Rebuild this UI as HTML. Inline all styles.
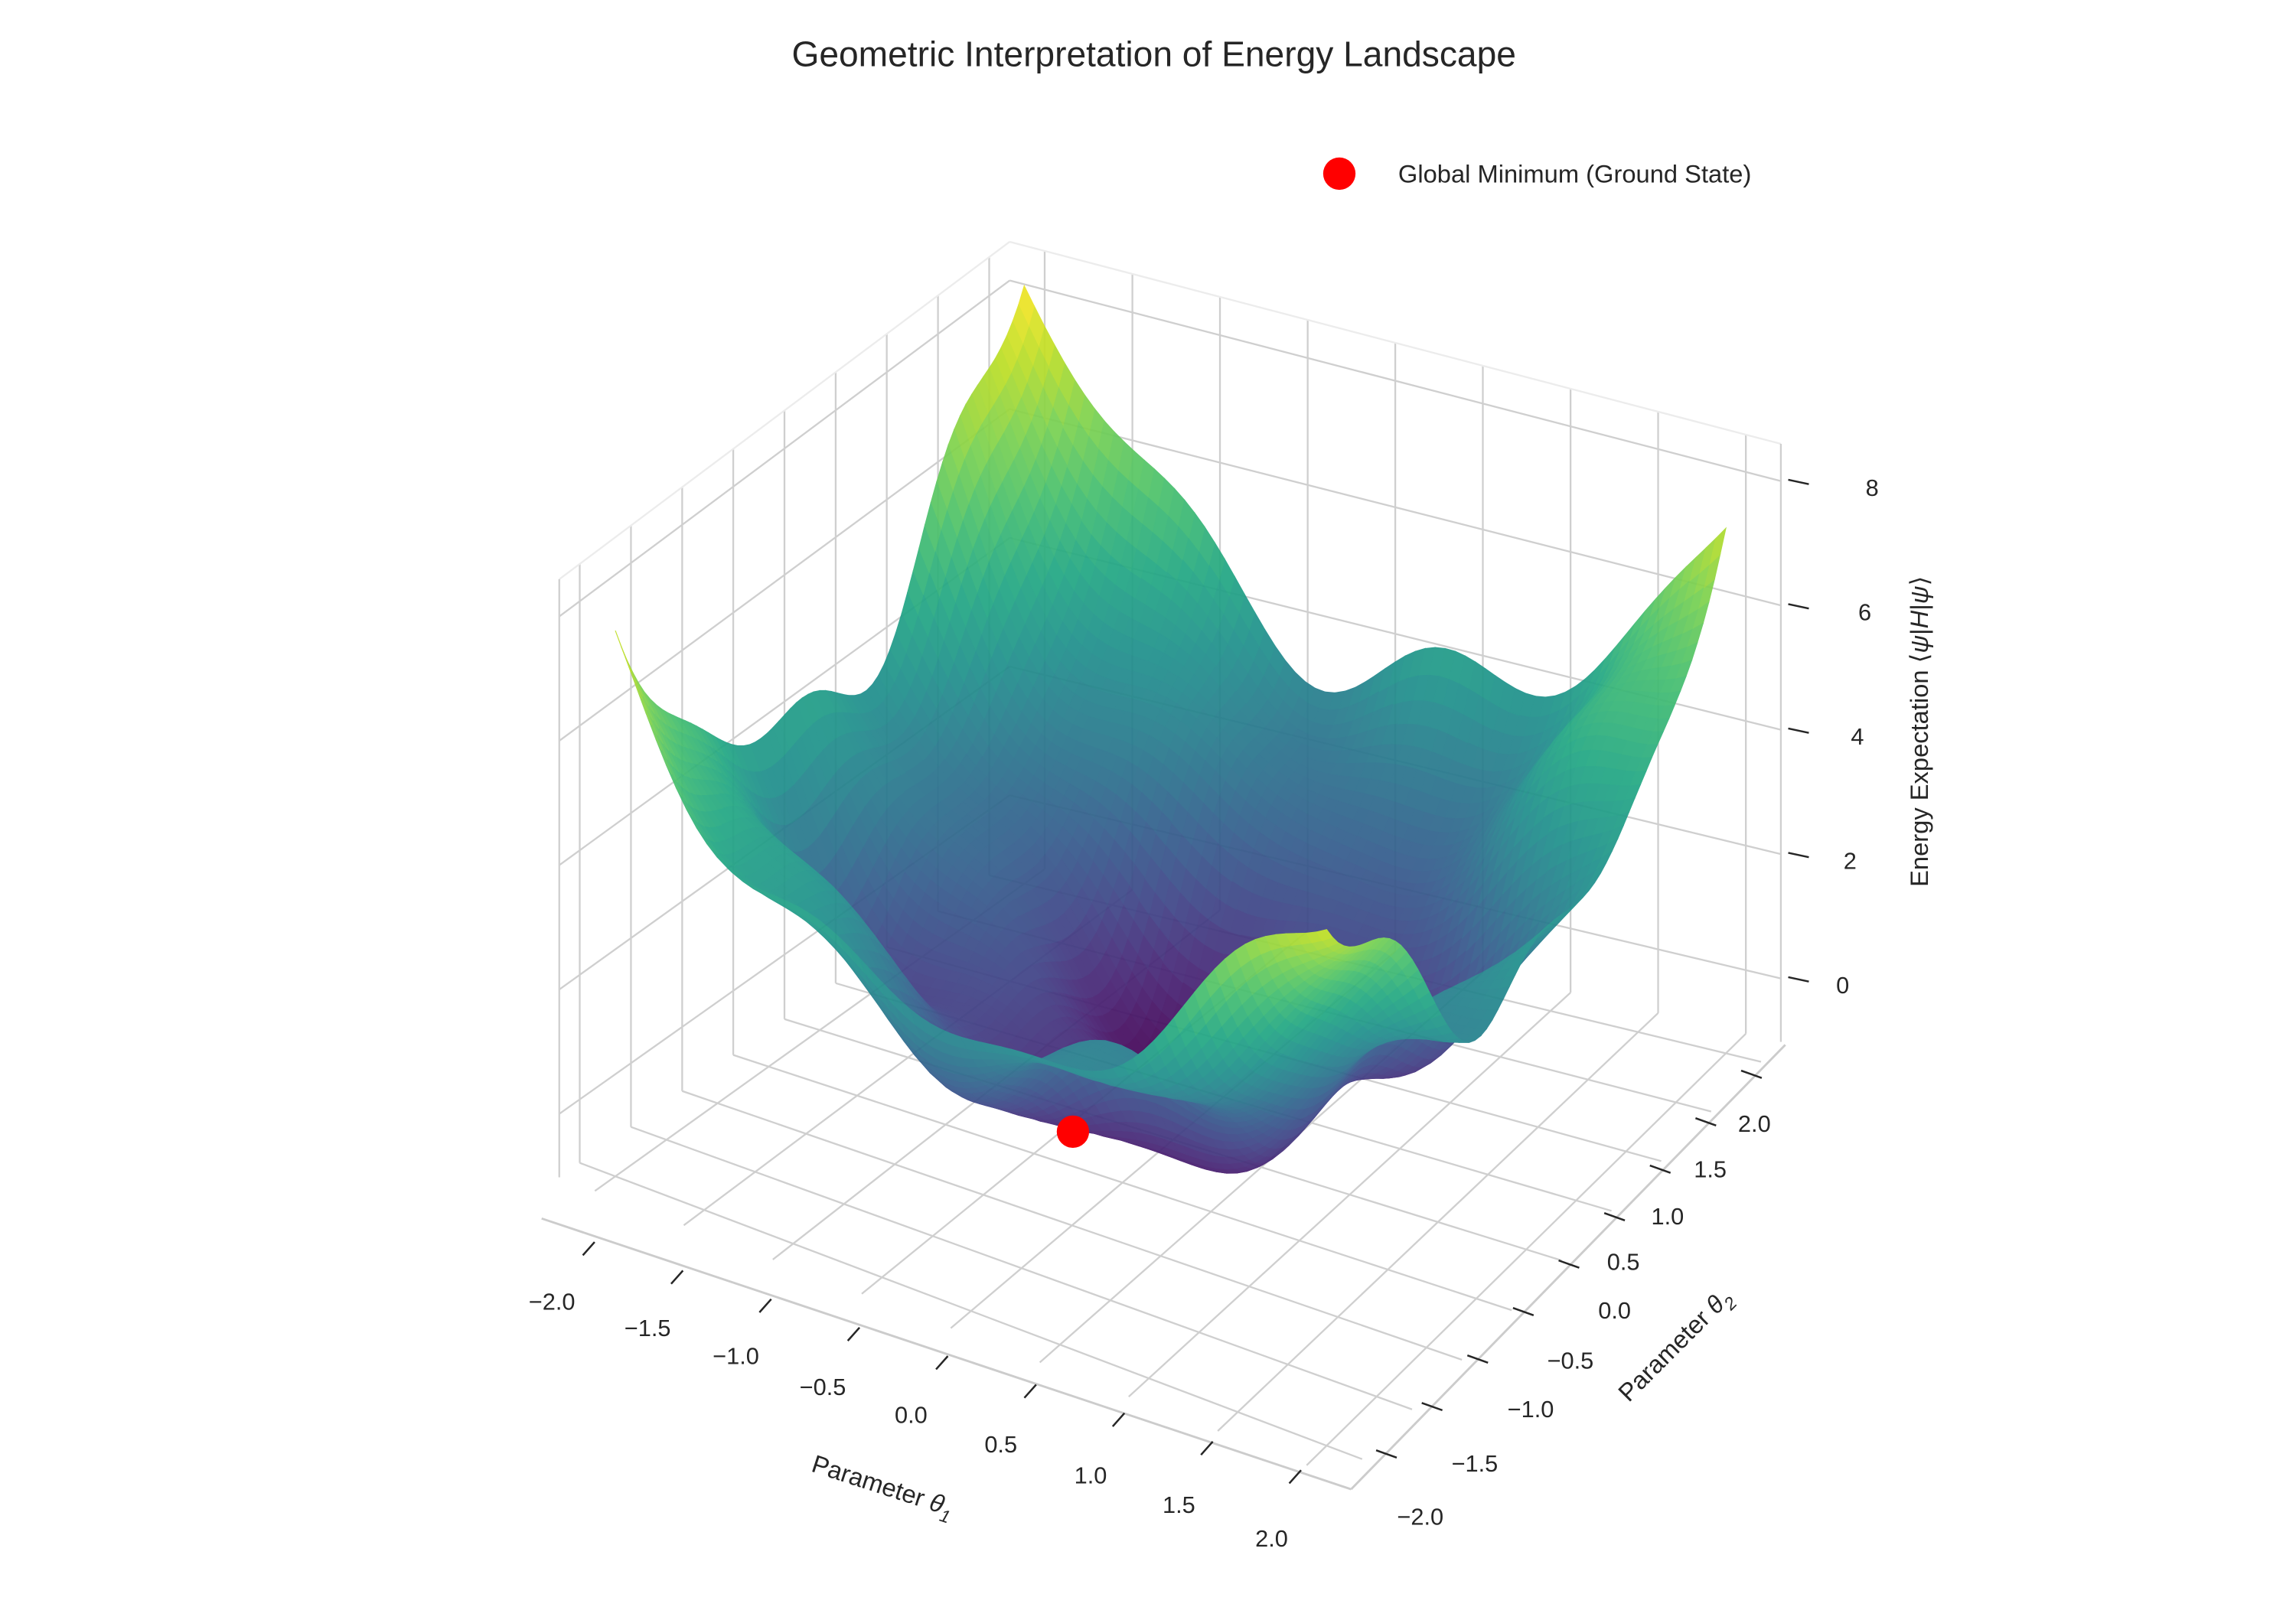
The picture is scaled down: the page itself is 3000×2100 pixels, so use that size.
<!DOCTYPE html>
<html><head><meta charset="utf-8"><style>
html,body{margin:0;padding:0;background:#fff;}
svg{display:block;}
text{font-family:"Liberation Sans",sans-serif;fill:#262626;}
</style></head><body>
<svg id="s" width="3000" height="2100" viewBox="0 0 1560 1092" preserveAspectRatio="none" xmlns="http://www.w3.org/2000/svg">
<rect width="1560" height="1092" fill="#fff"/>
<g id="grid"></g>
<g id="surf" opacity="0.93"></g>
<circle cx="729" cy="769" r="11" fill="#ff0000"/>
<g id="axes"></g>
<text x="784" y="45" font-size="24" text-anchor="middle">Geometric Interpretation of Energy Landscape</text>
<circle cx="910" cy="118" r="11" fill="#ff0000"/>
<text x="950" y="124" font-size="17">Global Minimum (Ground State)</text>
<text transform="translate(598,1015) rotate(18)" font-size="17" text-anchor="middle">Parameter <tspan font-style="italic">θ</tspan><tspan font-size="12" dy="5" font-style="italic">1</tspan></text>
<text transform="translate(1142,918) rotate(-45)" font-size="17" text-anchor="middle">Parameter <tspan font-style="italic">θ</tspan><tspan font-size="12" dy="5" font-style="italic">2</tspan></text>
<text transform="translate(1310,497) rotate(-90)" font-size="17" text-anchor="middle">Energy Expectation ⟨<tspan font-style="italic">ψ</tspan>|<tspan font-style="italic">H</tspan>|<tspan font-style="italic">ψ</tspan>⟩</text>
</svg>
<script>
var NS="http://www.w3.org/2000/svg";
function el(p,t,a){var e=document.createElementNS(NS,t);for(var k in a)e.setAttribute(k,a[k]);p.appendChild(e);return e;}
var L=[380,800],F=[912,1005],R=[1210,708],B=[686,585];
var ZMIN=-1.02,ZMAX=8.6,ZS=42.25;
function P(x,y,z){var u=(x+2.2)/4.4,v=(y+2.2)/4.4;
 var sx=L[0]*(1-u)*(1-v)+F[0]*u*(1-v)+R[0]*u*v+B[0]*(1-u)*v;
 var sy=L[1]*(1-u)*(1-v)+F[1]*u*(1-v)+R[1]*u*v+B[1]*(1-u)*v;
 var sc=1+0.035*(v-u);
 return [sx,sy-(z-ZMIN)*ZS*sc];}
var g=document.getElementById('grid');
function line(p,a,b,c,w){el(p,'line',{x1:a[0].toFixed(1),y1:a[1].toFixed(1),x2:b[0].toFixed(1),y2:b[1].toFixed(1),stroke:c||'#cfcfcf','stroke-width':w||1.2});}
var T=[-2,-1.5,-1,-0.5,0,0.5,1,1.5,2],ZT=[0,2,4,6,8];
T.forEach(function(t){line(g,P(t,-2.2,ZMIN),P(t,2.2,ZMIN));line(g,P(-2.2,t,ZMIN),P(2.2,t,ZMIN));});
T.forEach(function(t){line(g,P(-2.2,t,ZMIN),P(-2.2,t,ZMAX));});
ZT.forEach(function(z){line(g,P(-2.2,-2.2,z),P(-2.2,2.2,z));});
T.forEach(function(t){line(g,P(t,2.2,ZMIN),P(t,2.2,ZMAX));});
ZT.forEach(function(z){line(g,P(-2.2,2.2,z),P(2.2,2.2,z));});
line(g,P(-2.2,-2.2,ZMAX),P(-2.2,2.2,ZMAX),'#ececec');line(g,P(-2.2,2.2,ZMAX),P(2.2,2.2,ZMAX),'#ececec');
line(g,P(-2.2,-2.2,ZMIN),P(-2.2,-2.2,ZMAX));line(g,P(2.2,2.2,ZMIN),P(2.2,2.2,ZMAX));
function f(x,y){var r2=x*x+y*y;return 0.95*r2+0.02*x*x*y*y-0.6+0.55*Math.sin(3.5*x)*Math.sin(3.5*y)+0.3*Math.sin(5*x)+0.3*Math.cos(5*y)-0.1*x*y+0.05*(y-x);}
var VC=[[68,1,84],[72,35,116],[64,67,135],[52,94,141],[41,120,142],[32,144,140],[34,167,132],[68,190,112],[121,209,81],[189,222,38],[253,231,37]];
function vir(t){t=Math.max(0,Math.min(1,t))*(VC.length-1);var i=Math.min(Math.floor(t),VC.length-2),r=t-i;var a=VC[i],b=VC[i+1];
 return 'rgb('+Math.round(a[0]+(b[0]-a[0])*r)+','+Math.round(a[1]+(b[1]-a[1])*r)+','+Math.round(a[2]+(b[2]-a[2])*r)+')';}
var N=70,xs=[],Z=[],zmn=1e9,zmx=-1e9;
for(var i=0;i<=N;i++){xs.push(-2+4*i/N);}
for(var i=0;i<=N;i++){Z.push([]);for(var j=0;j<=N;j++){var z=f(xs[i],xs[j]);Z[i].push(z);zmn=Math.min(zmn,z);zmx=Math.max(zmx,z);}}
var sc=(8.3-(-0.8))/(zmx-zmn);
for(var i=0;i<=N;i++)for(var j=0;j<=N;j++)Z[i][j]=-0.8+(Z[i][j]-zmn)*sc;
var quads=[];
for(var i=0;i<N;i++)for(var j=0;j<N;j++){
 var x0=xs[i],x1=xs[i+1],y0=xs[j],y1=xs[j+1];
 var za=Z[i][j],zb=Z[i+1][j],zc=Z[i+1][j+1],zd=Z[i][j+1],zm=(za+zb+zc+zd)/4;
 var xm=(x0+x1)/2,ym=(y0+y1)/2;
 var depth=0.433*xm/2.2-0.75*ym/2.2+0.5*(zm-3.8)/6.8;
 quads.push([depth,[P(x0,y0,za),P(x1,y0,zb),P(x1,y1,zc),P(x0,y1,zd)],zm]);}
quads.sort(function(a,b){return a[0]-b[0];});
var s=document.getElementById('surf'),h='';
quads.forEach(function(q){var c=vir((q[2]+0.8)/9.1);var p=q[1].map(function(v){return v[0].toFixed(1)+','+v[1].toFixed(1);}).join(' ');
 h+='<polygon points="'+p+'" fill="'+c+'" stroke="'+c+'" stroke-width="0.6"/>';});
s.innerHTML=h;
var ax=document.getElementById('axes');
line(ax,[368,828],[918,1012],'#cccccc',1.5);line(ax,[918,1012],[1213,710],'#cccccc',1.5);
T.forEach(function(t,k){var u=(t+2)/4;
 var px=400+480*u,py=848+155*u;line(ax,[px-4,py+5],[px+4,py-4],'#262626',1.3);
 var lx=[375,440,500,559,619,680,741,801,864][k],ly=[890,908,927,948,967,987,1008,1028,1051][k];
 el(ax,'text',{x:lx,y:ly,'font-size':16,'text-anchor':'middle'}).textContent=(t<0?'\u2212':'')+Math.abs(t).toFixed(1);
 var qx=942+248*u,qy=988-258*u;line(ax,[qx-7,qy-2.5],[qx+7,qy+2.5],'#262626',1.3);
 var mx=[965,1002,1040,1067,1097,1103,1133,1162,1192][k],my=[1036,1000,963,930,896,863,832,800,769][k];
 el(ax,'text',{x:mx,y:my,'font-size':16,'text-anchor':'middle'}).textContent=(t<0?'\u2212':'')+Math.abs(t).toFixed(1);});
ZT.forEach(function(z,k){var y=665-z*42.25;line(ax,[1215,y-1],[1229,y+2],'#262626',1.3);
 el(ax,'text',{x:1252+z*2.5,y:y+10,'font-size':16,'text-anchor':'middle'}).textContent=z;});
</script>
</body></html>
